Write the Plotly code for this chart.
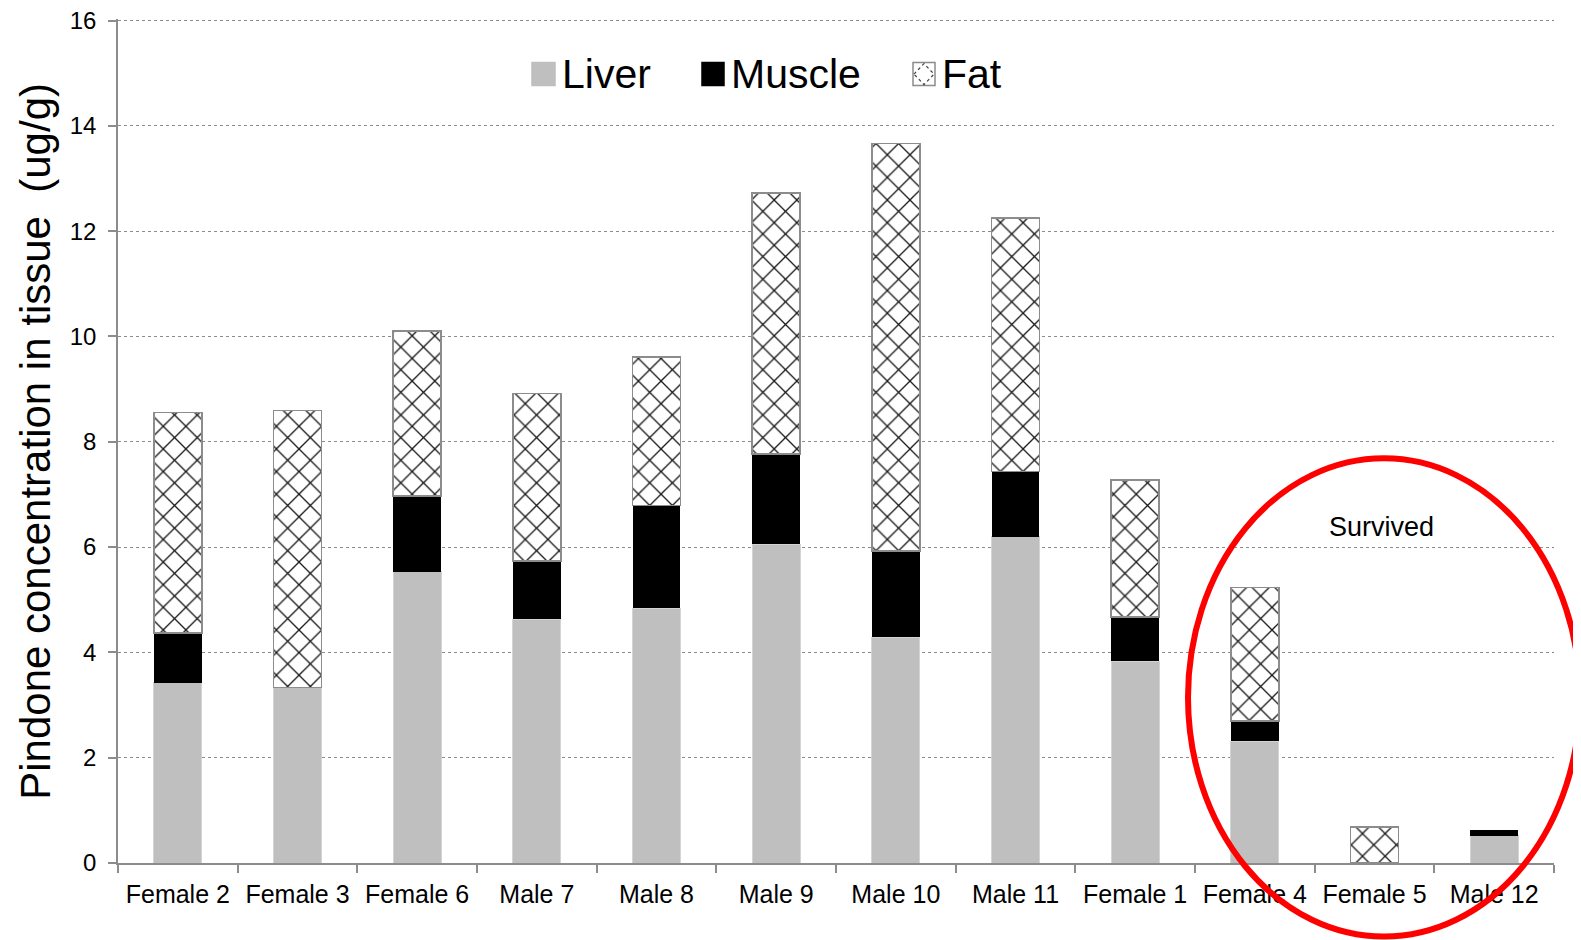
import plotly.graph_objects as go

categories = ["Female 2", "Female 3", "Female 6", "Male 7", "Male 8", "Male 9",
              "Male 10", "Male 11", "Female 1", "Female 4", "Female 5", "Male 12"]
liver = [3.42, 3.33, 5.53, 4.63, 4.84, 6.05, 4.29, 6.20, 3.83, 2.31, None, 0.52]
muscle = [0.95, None, 1.44, 1.11, 1.95, 1.72, 1.64, 1.24, 0.84, 0.39, None, 0.11]
fat = [4.19, 5.26, 3.13, 3.18, 2.82, 4.96, 7.74, 4.81, 2.60, 2.53, 0.68, None]

y_ticks = [0, 2, 4, 6, 8, 10, 12, 14, 16]
y_title = "Pindone concentration in tissue  (ug/g)"
legend_names = ["Liver", "Muscle", "Fat"]
note_text = "Survived"

W, H = 1581, 940
OFF = 8  # default body margin of the html page
YMAX = 16.03
L, R, B = 118, 1554, 863  # page pixel positions of the plot area
T = B - (B - 21) * YMAX / 16  # so that y=16 sits at page y=21
FONT = "Liberation Sans, Arial, sans-serif"


def px(x):
    return (x - L) / (R - L)


def py(y):
    return (B - y) / (B - T)


fig = go.Figure()
fig.add_trace(go.Bar(x=categories, y=liver, name=legend_names[0],
                     marker=dict(color="#bfbfbf", line=dict(color="#d4d4d4", width=1)),
                     showlegend=False))
fig.add_trace(go.Bar(x=categories, y=muscle, name=legend_names[1],
                     marker=dict(color="#000000", line=dict(color="#000000", width=0)),
                     showlegend=False))
fig.add_trace(go.Bar(x=categories, y=fat, name=legend_names[2],
                     marker=dict(color="#ffffff", line=dict(color="#8c8c8c", width=1.5),
                                 pattern=dict(shape="x", fgcolor="#1a1a1a", bgcolor="#ffffff",
                                              size=16, solidity=0.16, fillmode="replace")),
                     showlegend=False))

shapes = []
annotations = []

# custom legend
legend_items = [
    (legend_names[0], 532, 555, "#bfbfbf", "#bfbfbf"),
    (legend_names[1], 702, 724, "#000000", "#000000"),
    (legend_names[2], 913, 935, "#ffffff", "#8c8c8c"),
]
ly0, ly1 = 63, 86
for name, x0, x1, fill, line in legend_items:
    shapes.append(dict(type="rect", xref="paper", yref="paper",
                       x0=px(x0), x1=px(x1), y0=py(ly1), y1=py(ly0),
                       fillcolor=fill, line=dict(color=line, width=1.5), layer="above"))
    annotations.append(dict(text=name, xref="paper", yref="paper",
                            x=px(x1 + 5), y=py(74.5), xanchor="left", yanchor="middle",
                            showarrow=False, font=dict(family=FONT, size=41, color="#000000")))
# diamond inside fat legend swatch
fx0, fx1 = 913, 935
fm, ym = (fx0 + fx1) / 2, (ly0 + ly1) / 2
shapes.append(dict(type="path", xref="paper", yref="paper",
                   path=(f"M {px(fx0+1)},{py(ym)} L {px(fm)},{py(ly0+1)} "
                         f"L {px(fx1-1)},{py(ym)} L {px(fm)},{py(ly1-1)} Z"),
                   line=dict(color="#404040", width=1.2, dash="dot"), layer="above"))

# red ellipse
cx, cy, rx, ry = 1384, 697.5, 196, 239
shapes.append(dict(type="circle", xref="paper", yref="paper",
                   x0=px(cx - rx), x1=px(cx + rx), y0=py(cy + ry), y1=py(cy - ry),
                   line=dict(color="#ff0000", width=6), layer="above"))
annotations.append(dict(text=note_text, xref="paper", yref="paper",
                        x=px(1381), y=py(527), xanchor="center", yanchor="middle",
                        showarrow=False, font=dict(family=FONT, size=27, color="#000000")))
# y-axis title
annotations.append(dict(text=y_title, xref="paper", yref="paper",
                        x=px(36), y=py(442), xanchor="center", yanchor="middle", textangle=-90,
                        showarrow=False, font=dict(family=FONT, size=42, color="#000000")))

fig.update_layout(
    width=W, height=H,
    barmode="stack", bargap=0.6,
    margin=dict(l=L - OFF, r=W - (R - OFF), t=T - OFF, b=H - (B - OFF), autoexpand=False),
    paper_bgcolor="#ffffff", plot_bgcolor="#ffffff",
    font=dict(family=FONT, color="#000000"),
    shapes=shapes, annotations=annotations,
    showlegend=False,
)
fig.update_xaxes(
    type="category", tickson="boundaries", ticks="outside", ticklen=8,
    tickcolor="#8c8c8c", tickwidth=1.5, ticklabelstandoff=8,
    showline=True, linecolor="#8c8c8c", linewidth=1.5,
    showgrid=False, tickfont=dict(family=FONT, size=25, color="#000000"),
    range=[-0.5, 11.5],
)
fig.update_yaxes(
    range=[0, YMAX], tickvals=y_ticks, ticks="outside", ticklen=8,
    tickcolor="#8c8c8c", tickwidth=1.5, ticklabelstandoff=7, ticklabeloverflow="allow",
    showline=True, linecolor="#8c8c8c", linewidth=1.5,
    showgrid=True, gridcolor="#8c8c8c", gridwidth=1, griddash="dot",
    zeroline=False, tickfont=dict(family=FONT, size=24, color="#000000"),
)

fig.write_html("out.html")
